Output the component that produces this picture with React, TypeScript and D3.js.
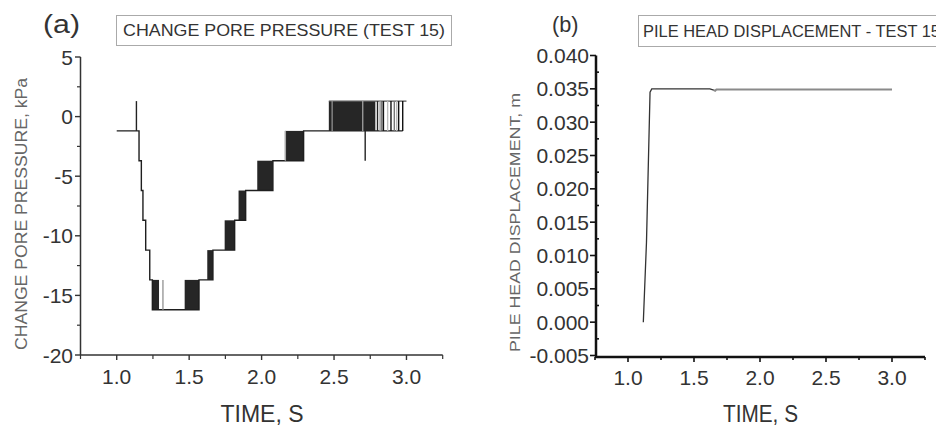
import React from 'react';
import * as d3 from 'd3';

// ---------- data ----------
// Panel (a): change of pore pressure (kPa) vs time (s)
const timeMajorTicks = [1.0, 1.5, 2.0, 2.5, 3.0];
const timeMinorTicks = [0.75, 1.25, 1.75, 2.25, 2.75, 3.25];
const poreMajorTicks = [5, 0, -5, -10, -15, -20];
const poreMinorTicks = [2.5, -2.5, -7.5, -12.5, -17.5];

// staircase trace: [time, value from this time on]
const poreSteps: [number, number][] = [
  [1.0, -1.2], [1.154, -3.7], [1.17, -6.2], [1.181, -8.7], [1.2, -11.2],
  [1.228, -13.7], [1.246, -16.2], [1.568, -13.7], [1.664, -11.2],
  [1.814, -8.7], [1.89, -6.2], [2.078, -3.7], [2.29, -1.2], [2.974, -1.2],
];
// dense chatter between two levels: [tStart, tEnd, low, high]
const poreChatter: [number, number, number, number][] = [
  [1.246, 1.292, -16.2, -13.7],
  [1.469, 1.568, -16.2, -13.7],
  [1.625, 1.664, -13.7, -11.2],
  [1.745, 1.814, -11.2, -8.7],
  [1.841, 1.89, -8.7, -6.2],
  [1.97, 2.078, -6.2, -3.7],
  [2.161, 2.29, -3.7, -1.2],
  [2.464, 2.785, -1.2, 1.3],
];
// isolated transitions: [time, low, high, shade]
const porePulses: [number, number, number, string][] = [
  [1.136, -1.2, 1.3, '#222'],
  [1.319, -16.2, -13.7, '#999'],
  [2.164, -3.7, -1.2, '#aaa'],
  [2.487, -1.2, 1.3, '#888'],
  [2.698, -1.2, 1.3, '#999'],
  [2.715, -3.7, -1.2, '#222'],
  [2.8, -1.2, 1.3, '#222'],
  [2.818, -1.2, 1.3, '#999'],
  [2.83, -1.2, 1.3, '#666'],
  [2.841, -1.2, 1.3, '#111'],
  [2.87, -1.2, 1.3, '#bbb'],
  [2.893, -1.2, 1.3, '#111'],
  [2.916, -1.2, 1.3, '#777'],
  [2.932, -1.2, 1.3, '#bbb'],
  [2.946, -1.2, 1.3, '#111'],
  [2.974, -1.2, 1.3, '#111'],
];
const poreTopEdge: [number, number][] = [[2.464, 1.3], [3.0, 1.3]];

// Panel (b): pile head displacement (m) vs time (s)
const dispMajorTicks = [0.04, 0.035, 0.03, 0.025, 0.02, 0.015, 0.01, 0.005, 0.0, -0.005];
const dispMinorTicks = [0.0375, 0.0325, 0.0275, 0.0225, 0.0175, 0.0125, 0.0075, 0.0025, -0.0025];
const dispEarly: [number, number][] = [
  [1.116, 0.0], [1.14, 0.012], [1.167, 0.0345], [1.18, 0.035], [1.62, 0.035], [1.65, 0.0348],
];
const dispLate: [number, number][] = [
  [1.65, 0.0348], [1.66, 0.0347], [1.67, 0.0349], [3.0, 0.0349],
];

const FONT = '"Liberation Sans", Arial, Helvetica, sans-serif';

export default function App() {
  // ----- panel (a) scales -----
  const xA = d3.scaleLinear().domain([0.75, 3.25]).range([80.5, 442.7]);
  const yA = d3.scaleLinear().domain([-20, 5]).range([355, 57]);
  // ----- panel (b) scales -----
  const xB = d3.scaleLinear().domain([0.75, 3.25]).range([595, 925]);
  const yB = d3.scaleLinear().domain([-0.005, 0.04]).range([355.5, 55.5]);

  const stepLine = d3
    .line<[number, number]>()
    .x((d) => xA(d[0]))
    .y((d) => yA(d[1]))
    .curve(d3.curveStepAfter);
  const plainA = d3
    .line<[number, number]>()
    .x((d) => xA(d[0]))
    .y((d) => yA(d[1]));
  const lineB = d3
    .line<[number, number]>()
    .x((d) => xB(d[0]))
    .y((d) => yB(d[1]));

  const fmtDisp = (v: number) => d3.format('.3f')(v).replace('−', '-');
  const fmtTime = d3.format('.1f');

  const axA = '#333';
  const axB = '#111';

  return (
    <svg
      width={936}
      height={426}
      style={{ position: 'absolute', left: 0, top: 0, background: '#fff' }}
      fontFamily={FONT}
    >
      <rect x={0} y={0} width={936} height={426} fill="#fff" />

      {/* ================= Panel (a) ================= */}
      <text x={43} y={32.5} fontSize={26} fill="#333" textLength={37} lengthAdjust="spacingAndGlyphs">
        (a)
      </text>
      <rect x={116.5} y={15.5} width={335} height={30} fill="#fff" stroke="#aaa" strokeWidth={1} />
      <text x={123} y={36} fontSize={17} fill="#333" textLength={322} lengthAdjust="spacingAndGlyphs">
        CHANGE PORE PRESSURE (TEST 15)
      </text>

      {/* y axis */}
      <line x1={80.5} x2={80.5} y1={yA(5)} y2={yA(-20)} stroke={axA} strokeWidth={1.5} />
      {poreMajorTicks.map((v) => (
        <g key={'pa' + v}>
          <line x1={75} x2={80.5} y1={yA(v)} y2={yA(v)} stroke={axA} strokeWidth={1.4} />
          <text x={73} y={yA(v) + 7.5} fontSize={21} textAnchor="end" fill="#333">
            {String(v)}
          </text>
        </g>
      ))}
      {poreMinorTicks.map((v) => (
        <line key={'pm' + v} x1={77} x2={80.5} y1={yA(v)} y2={yA(v)} stroke={axA} strokeWidth={1.2} />
      ))}
      {/* x axis */}
      <line x1={80.5} x2={442.7} y1={355} y2={355} stroke={axA} strokeWidth={1.5} />
      {timeMajorTicks.map((t) => (
        <g key={'ta' + t}>
          <line x1={xA(t)} x2={xA(t)} y1={355} y2={360} stroke={axA} strokeWidth={1.4} />
          <text x={xA(t)} y={384} fontSize={21} textAnchor="middle" fill="#333">
            {fmtTime(t)}
          </text>
        </g>
      ))}
      {timeMinorTicks.map((t) => (
        <line key={'tm' + t} x1={xA(t)} x2={xA(t)} y1={355} y2={359} stroke={axA} strokeWidth={1.2} />
      ))}
      <text x={262} y={421.5} fontSize={23} textAnchor="middle" fill="#333">
        TIME, S
      </text>
      <text
        transform="translate(26.5,214) rotate(-90)"
        fontSize={16}
        textAnchor="middle"
        fill="#666"
        textLength={272}
        lengthAdjust="spacingAndGlyphs"
      >
        CHANGE PORE PRESSURE, kPa
      </text>

      {/* data (a) */}
      {poreChatter.map((b, i) => (
        <rect
          key={'ch' + i}
          x={xA(b[0])}
          y={yA(b[3])}
          width={xA(b[1]) - xA(b[0])}
          height={yA(b[2]) - yA(b[3])}
          fill="#262626"
        />
      ))}
      <path d={stepLine(poreSteps) || ''} fill="none" stroke="#1e1e1e" strokeWidth={1.4} />
      <path d={plainA(poreTopEdge) || ''} fill="none" stroke="#555" strokeWidth={1.3} />
      {porePulses.map((p, i) => (
        <line
          key={'pu' + i}
          x1={xA(p[0])}
          x2={xA(p[0])}
          y1={yA(p[1])}
          y2={yA(p[2])}
          stroke={p[3]}
          strokeWidth={1.4}
        />
      ))}

      {/* ================= Panel (b) ================= */}
      <text x={552} y={31.5} fontSize={22} fill="#333" textLength={26.5} lengthAdjust="spacingAndGlyphs">
        (b)
      </text>
      <rect x={638.5} y={15.5} width={320} height={31} fill="#fff" stroke="#aaa" strokeWidth={1} />
      <text x={643} y={36.5} fontSize={16} fill="#333" textLength={297} lengthAdjust="spacingAndGlyphs">
        PILE HEAD DISPLACEMENT - TEST 15
      </text>

      {/* y axis */}
      <line x1={596} x2={596} y1={yB(0.04)} y2={357} stroke={axB} strokeWidth={2.5} />
      {dispMajorTicks.map((v) => (
        <g key={'da' + v}>
          <line x1={590} x2={596} y1={yB(v)} y2={yB(v)} stroke={axB} strokeWidth={1.6} />
          <text x={589} y={yB(v) + 7.5} fontSize={21} textAnchor="end" fill="#333">
            {fmtDisp(v)}
          </text>
        </g>
      ))}
      {dispMinorTicks.map((v) => (
        <line key={'dm' + v} x1={596} x2={599} y1={yB(v)} y2={yB(v)} stroke={axB} strokeWidth={1.6} />
      ))}
      {/* x axis */}
      <line x1={595} x2={925} y1={357} y2={357} stroke={axB} strokeWidth={2.5} />
      {timeMajorTicks.map((t) => (
        <g key={'tb' + t}>
          <line x1={xB(t)} x2={xB(t)} y1={357} y2={362} stroke={axB} strokeWidth={1.6} />
          <text x={xB(t)} y={385} fontSize={21} textAnchor="middle" fill="#333">
            {fmtTime(t)}
          </text>
        </g>
      ))}
      {timeMinorTicks.map((t) => (
        <line key={'tbm' + t} x1={xB(t)} x2={xB(t)} y1={357} y2={360} stroke={axB} strokeWidth={1.6} />
      ))}
      <text x={760.5} y={421.5} fontSize={23} textAnchor="middle" fill="#333" textLength={75} lengthAdjust="spacingAndGlyphs">
        TIME, S
      </text>
      <text
        transform="translate(520,222.5) rotate(-90)"
        fontSize={15.5}
        textAnchor="middle"
        fill="#666"
        textLength={259}
        lengthAdjust="spacingAndGlyphs"
      >
        PILE HEAD DISPLACEMENT, m
      </text>

      {/* data (b) */}
      <path d={lineB(dispLate) || ''} fill="none" stroke="#8a8a8a" strokeWidth={2} />
      <path d={lineB(dispEarly) || ''} fill="none" stroke="#333" strokeWidth={1.3} />
    </svg>
  );
}
